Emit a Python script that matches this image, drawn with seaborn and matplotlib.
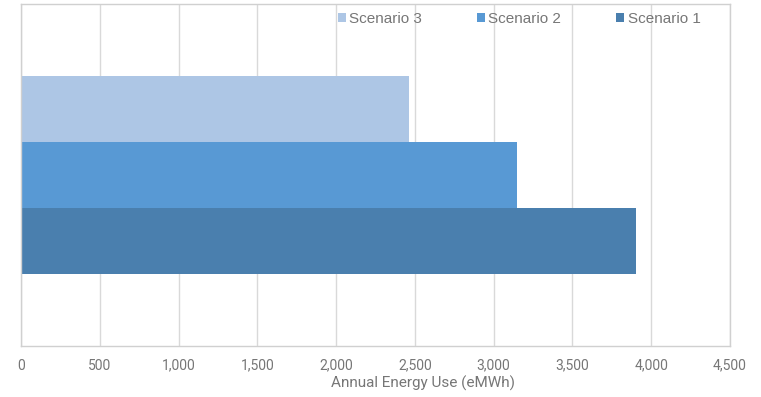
import numpy as np
import pandas as pd
import seaborn as sns
import matplotlib.pyplot as plt
from matplotlib.ticker import FuncFormatter

# values
scenarios = ["Scenario 3", "Scenario 2", "Scenario 1"]
energy = [2460, 3150, 3905]
colors = ["#adc6e5", "#5899d4", "#4a7fae"]

df = pd.DataFrame({"cat": ["Annual"] * 3, "scenario": scenarios, "energy": energy})

sns.set_style("white")
plt.rcParams["font.family"] = ["Roboto", "DejaVu Sans"]
txt = "#767676"

fig = plt.figure(figsize=(7.61, 3.97), dpi=100)
ax = fig.add_axes([21 / 761, 51 / 397, 709 / 761, 342 / 397])

sns.barplot(data=df, x="energy", y="cat", hue="scenario", hue_order=scenarios,
            palette=colors, orient="h", width=0.58, saturation=1,
            edgecolor="none", ax=ax, legend=True)

ax.set_xlim(0, 4500)
ax.set_ylim(0.5, -0.5)
ax.set_xticks(np.arange(0, 4501, 500))
ax.xaxis.set_major_formatter(FuncFormatter(lambda v, p: f"{int(v):,}"))
ax.set_yticks([])
ax.set_ylabel("")
ax.set_xlabel("Annual Energy Use (eMWh)", color=txt, fontsize=11)
ax.xaxis.set_label_coords((423 - 21) / 709, -0.086)
ax.tick_params(axis="x", colors=txt, labelsize=10, length=0, pad=9)
ax.grid(axis="x", color="#d9d9d9", linewidth=1)
ax.set_axisbelow(True)
for s in ax.spines.values():
    s.set_color("#d0d0d0")
    s.set_linewidth(1)

ax.legend(loc="center left", bbox_to_anchor=((338 - 21) / 709, 1 - 15 / 342), ncol=3,
          frameon=False, prop={"family": "Liberation Sans", "size": 11},
          handlelength=0.52, handleheight=0.52, handletextpad=0.22, borderpad=0,
          borderaxespad=0, columnspacing=3.6, labelcolor=txt)

fig.savefig("out.png", dpi=100)
